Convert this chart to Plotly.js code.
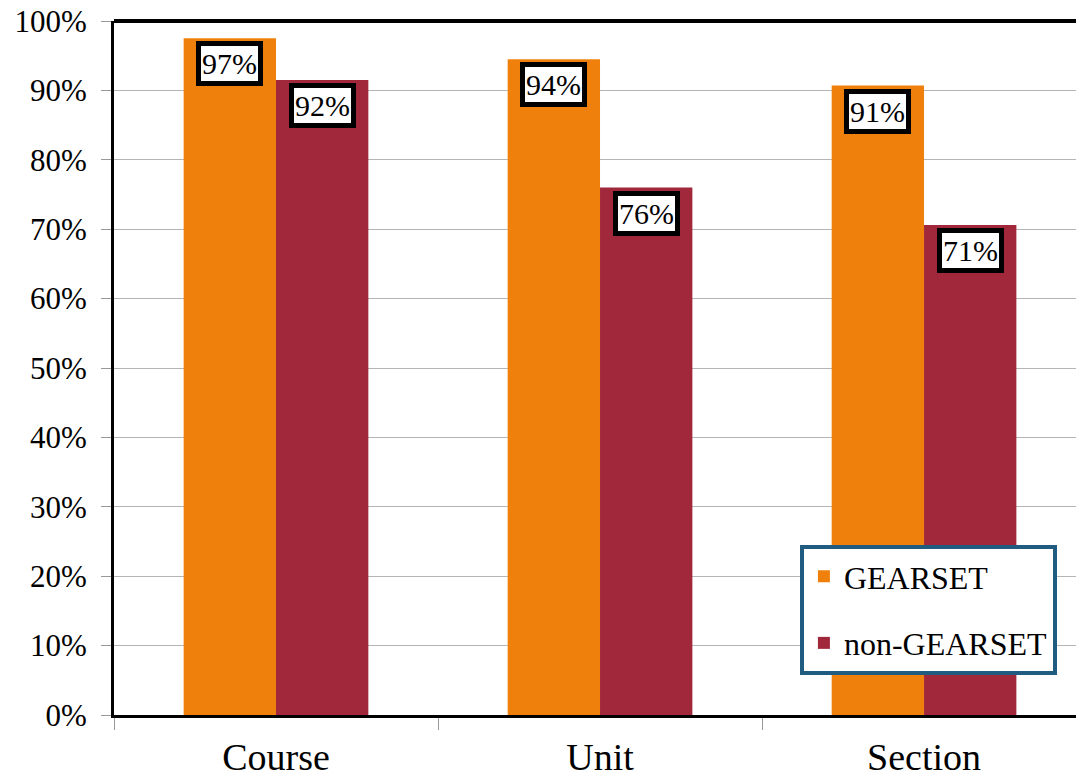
<!DOCTYPE html>
<html>
<head>
<meta charset="utf-8">
<script src="https://cdn.plot.ly/plotly-3.0.1.min.js"></script>
<style>
html,body{margin:0;padding:0;background:#fff;}
#chart{width:1076px;height:780px;}
</style>
</head>
<body>
<div id="chart"></div>
<script>
const categories = ["Course", "Unit", "Section"];
const gearset = [97.5, 94.5, 90.7];
const nonGearset = [91.5, 76.0, 70.6];
const gearsetLabels = ["97%", "94%", "91%"];
const nonGearsetLabels = ["92%", "76%", "71%"];

const orange = "#EF800B";
const maroon = "#A0283A";
const bargap = 0.43;
const half = (1 - bargap) / 4;
const FONT = "Liberation Serif";

const traces = [
  {type: "bar", name: "GEARSET", legendgroup: "g1", x: categories, y: gearset, marker: {color: orange}, hoverinfo: "none"},
  {type: "bar", name: "non-GEARSET", legendgroup: "g2", x: categories, y: nonGearset, marker: {color: maroon}, hoverinfo: "none"}
];

const annotations = [];
function addLabels(vals, labels, offset) {
  vals.forEach((v, i) => {
    annotations.push({
      x: i + offset, y: v, xref: "x", yref: "y",
      text: labels[i], showarrow: false, yanchor: "top", yshift: -3,
      font: {family: FONT, size: 30, color: "#000"},
      bgcolor: "#fff", bordercolor: "#000", borderwidth: 5, borderpad: 1
    });
  });
}
addLabels(gearset, gearsetLabels, -half);
addLabels(nonGearset, nonGearsetLabels, half);

const layout = {
  width: 1076, height: 780,
  margin: {l: 114, r: 0, t: 21, b: 65},
  paper_bgcolor: "#fff", plot_bgcolor: "#fff",
  barmode: "group", bargap: bargap, bargroupgap: 0,
  font: {family: FONT, color: "#000"},
  showlegend: true,
  legend: {
    x: 0.713, y: 0.245, xanchor: "left", yanchor: "top",
    bgcolor: "#fff", bordercolor: "#1F5C80", borderwidth: 4,
    font: {size: 32, family: FONT},
    tracegroupgap: 22, itemwidth: 30
  },
  xaxis: {
    type: "category", range: [-0.5, 2.469],
    showline: true, linecolor: "#000", linewidth: 3,
    ticks: "outside", tickson: "boundaries", ticklen: 12, tickcolor: "#999", tickwidth: 1,
    tickfont: {size: 38, family: FONT}, showgrid: false, zeroline: false,
    ticklabelstandoff: 6
  },
  yaxis: {
    range: [0, 100], dtick: 10, ticksuffix: "%",
    showline: true, linecolor: "#000", linewidth: 3,
    ticks: "outside", ticklen: 10, tickcolor: "#999", tickwidth: 1,
    tickfont: {size: 31, family: FONT}, showgrid: true, gridcolor: "#b5b5b5", gridwidth: 1,
    zeroline: false, ticklabelstandoff: 8
  },
  shapes: [
    {type: "line", xref: "paper", yref: "paper", x0: 0, x1: 1, y0: 1, y1: 1, line: {color: "#000", width: 4}}
  ],
  annotations: annotations
};

Plotly.newPlot("chart", traces, layout, {staticPlot: true});
</script>
</body>
</html>
